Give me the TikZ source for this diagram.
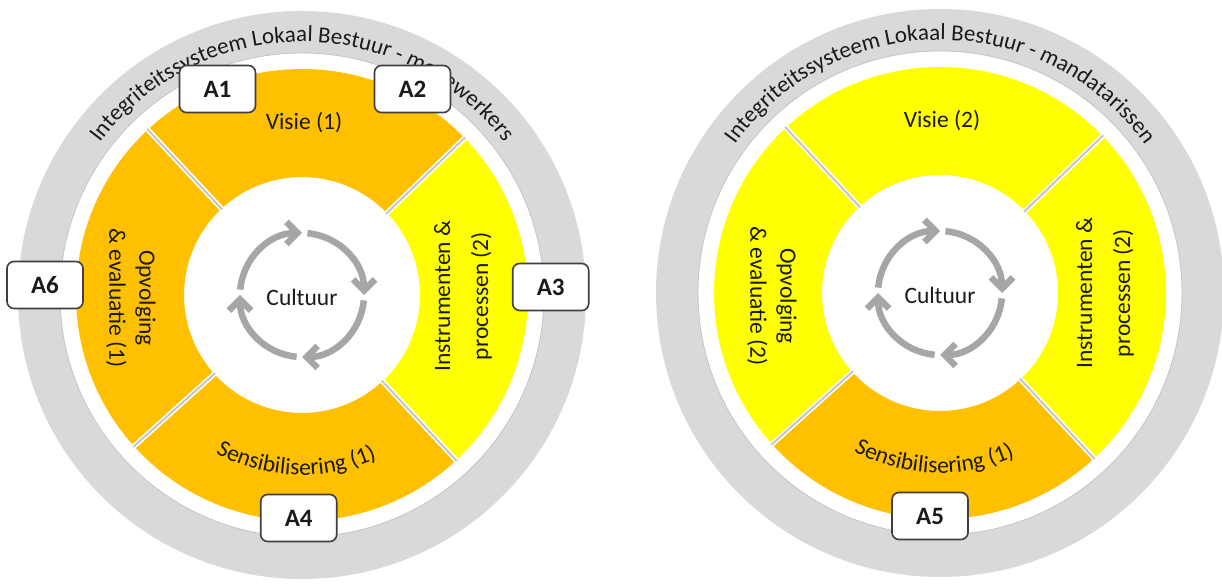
\documentclass[tikz,border=0pt]{standalone}
\usepackage{fontspec}
\setmainfont{Carlito}
\usetikzlibrary{decorations.text,arrows.meta}
\definecolor{segorange}{HTML}{FFC000}
\definecolor{segyellow}{HTML}{FFFF00}
\definecolor{ringgray}{HTML}{D9D9D9}
\definecolor{ringedge}{HTML}{C6C6C6}
\definecolor{arrowgray}{HTML}{A6A6A6}
\definecolor{txtcol}{HTML}{1A1A1A}
\definecolor{boxedge}{HTML}{3F3F3F}
\newcommand{\segfont}{\fontsize{23.5}{29}\selectfont}
\newcommand{\ringfont}{\fontsize{23}{23}\selectfont}
\newcommand{\ringseg}[3]{\fill[#1] (#2:226pt) arc[start angle=#2,end angle=#3,radius=226pt] -- (#3:118pt) arc[start angle=#3,end angle=#2,radius=118pt] -- cycle;}
\newcommand{\ringsep}[1]{\draw[sepwhite] (#1:117pt) -- (#1:227pt); \draw[sepgray] (#1:117pt) -- (#1:227pt);}
\newcommand{\cyclearrows}{%
  \foreach \k in {0,1,2,3}{%
    \draw[cyc] ({175-90*\k}:62pt) arc[start angle={175-90*\k},end angle={90-90*\k},radius=62pt];}}
\begin{document}
\begin{tikzpicture}[x=1pt,y=1pt,
  sepwhite/.style={white,line width=5pt},
  sepgray/.style={ringedge,line width=2pt},
  segtext/.style={font=\segfont,text=txtcol,inner sep=0pt},
  cyc/.style={draw=arrowgray,line width=6.5pt,-{Straight Barb[length=11pt,width=22pt]}},
  labelbox/.style={draw=boxedge,line width=1.6pt,fill=white,rounded corners=7pt,
    minimum width=76pt,minimum height=47pt,inner sep=0pt,
    font=\fontsize{25}{25}\selectfont\bfseries,text=txtcol},
  ringring/.style={fill=ringgray,even odd rule}]
\useasboundingbox (0,0) rectangle (1222,583);
\fill[white] (0,0) rectangle (1222,583);

% ---------------- left circle ----------------
\begin{scope}[shift={(302,288)}]
  \path[ringring] (0,0) circle[radius=284pt] (0,0) circle[radius=242pt];
  \draw[ringedge,line width=0.8pt] (0,0) circle[radius=242pt];
  \ringseg{segorange}{44}{133}
  \ringseg{segorange}{133}{222}
  \ringseg{segorange}{222}{313}
  \ringseg{segyellow}{313}{404}
  \ringsep{44}\ringsep{133}\ringsep{222}\ringsep{313}
  \path[decorate,decoration={text along path,text align=center,
    text={|\ringfont\color{txtcol}|Integriteitssysteem Lokaal Bestuur - medewerkers}}]
    (150:253pt) arc[start angle=150,end angle=30,radius=253pt];
  \path[decorate,decoration={text along path,text align=center,
    text={|\segfont\color{txtcol}|Sensibilisering (1)}}]
    (223:180pt) arc[start angle=223,end angle=313,radius=180pt];
  \node[segtext] (visieL) at (2,172) {Visie (1)};
  \node[segtext,rotate=90,align=center,font=\fontsize{23.5}{38}\selectfont] (instrL) at (161,-1) {Instrumenten \&\\processen (2)};
  \node[segtext,rotate=-90,align=center,font=\fontsize{23.5}{30}\selectfont] (opvL) at (-171,-3) {Opvolging\\\& evaluatie (1)};
  \node[segtext] (cultL) at (0,-2) {Cultuur};
  \cyclearrows
\end{scope}

% ---------------- right circle ----------------
\begin{scope}[shift={(940,290)}]
  \path[ringring] (0,0) circle[radius=284pt] (0,0) circle[radius=242pt];
  \draw[ringedge,line width=0.8pt] (0,0) circle[radius=242pt];
  \ringseg{segyellow}{44}{133}
  \ringseg{segyellow}{133}{222}
  \ringseg{segorange}{222}{313}
  \ringseg{segyellow}{313}{404}
  \ringsep{44}\ringsep{133}\ringsep{222}\ringsep{313}
  \path[decorate,decoration={text along path,text align=center,
    text={|\ringfont\color{txtcol}|Integriteitssysteem Lokaal Bestuur - mandatarissen}}]
    (150:253pt) arc[start angle=150,end angle=30,radius=253pt];
  \path[decorate,decoration={text along path,text align=center,
    text={|\segfont\color{txtcol}|Sensibilisering (1)}}]
    (223:180pt) arc[start angle=223,end angle=313,radius=180pt];
  \node[segtext] (visieR) at (2,172) {Visie (2)};
  \node[segtext,rotate=90,align=center,font=\fontsize{23.5}{38}\selectfont] (instrR) at (165,0) {Instrumenten \&\\processen (2)};
  \node[segtext,rotate=-90,align=center,font=\fontsize{23.5}{30}\selectfont] (opvR) at (-168,-3) {Opvolging\\\& evaluatie (2)};
  \node[segtext] (cultR) at (0,-2) {Cultuur};
  \cyclearrows
\end{scope}

% ---------------- labels ----------------
\node[labelbox] (A1) at (217.5,494) {A1};
\node[labelbox] (A2) at (412.5,494) {A2};
\node[labelbox] (A3) at (550.7,296) {A3};
\node[labelbox] (A4) at (298.7,65) {A4};
\node[labelbox] (A5) at (930,67) {A5};
\node[labelbox] (A6) at (45,298) {A6};
\end{tikzpicture}
\end{document}
